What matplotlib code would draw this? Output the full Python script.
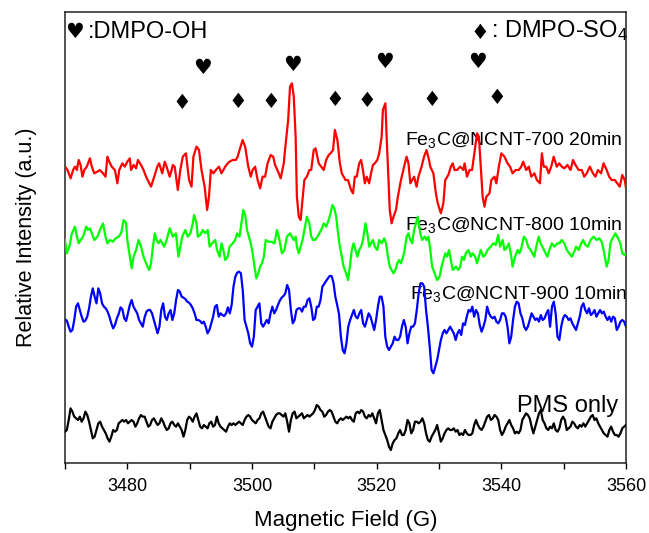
import numpy as np
import matplotlib
matplotlib.use("Agg")
import matplotlib.pyplot as plt

plt.rcParams["font.family"] = ["Liberation Sans", "DejaVu Sans"]
plt.rcParams["mathtext.fontset"] = "custom"
plt.rcParams["mathtext.rm"] = "Liberation Sans"
plt.rcParams["mathtext.it"] = "Liberation Sans"

# ---------------- EPR spectra (field in G, signal in arbitrary units) ----------------
red_field = [3470.0, 3470.4, 3470.9, 3471.3, 3471.6, 3471.9, 3472.2, 3472.5, 3472.8, 3473.1,
             3473.5, 3474.0, 3474.3, 3474.7, 3475.2, 3475.6, 3476.1, 3476.5, 3476.8, 3477.1,
             3477.5, 3478.0, 3478.4, 3478.7, 3479.2, 3479.6, 3480.0, 3480.4, 3480.6, 3481.0,
             3481.4, 3481.7, 3482.2, 3482.6, 3483.0, 3483.8, 3484.4, 3484.8, 3485.1, 3485.6,
             3486.0, 3486.3, 3486.8, 3487.1, 3487.3, 3487.6, 3488.1, 3488.5, 3488.9, 3489.4,
             3489.9, 3490.3, 3490.6, 3491.1, 3491.5, 3491.9, 3492.4, 3492.8, 3493.1, 3493.4,
             3493.8, 3494.2, 3494.7, 3495.1, 3495.4, 3495.7, 3496.1, 3496.4, 3496.9, 3497.4,
             3497.7, 3498.0, 3498.5, 3498.9, 3499.4, 3499.8, 3500.1, 3500.5, 3500.9, 3501.3,
             3501.7, 3502.1, 3502.5, 3503.0, 3503.4, 3503.7, 3504.3, 3504.6, 3505.1, 3505.3,
             3505.8, 3506.1, 3506.4, 3506.7, 3507.0, 3507.2, 3507.5, 3507.8, 3508.1, 3508.4,
             3508.8, 3509.2, 3509.5, 3509.9, 3510.2, 3510.7, 3511.1, 3511.5, 3511.9, 3512.3,
             3512.6, 3513.0, 3513.3, 3513.7, 3514.1, 3514.4, 3515.0, 3515.4, 3515.9, 3516.2,
             3516.5, 3516.8, 3517.2, 3517.5, 3517.8, 3518.1, 3518.4, 3518.8, 3519.1, 3519.4,
             3519.7, 3520.1, 3520.4, 3520.8, 3521.0, 3521.4, 3521.6, 3521.9, 3522.1, 3522.4,
             3522.7, 3523.1, 3523.4, 3523.9, 3524.4, 3524.8, 3525.1, 3525.4, 3525.7, 3526.0,
             3526.4, 3526.7, 3527.2, 3527.6, 3528.0, 3528.4, 3528.6, 3529.1, 3529.5, 3529.8,
             3530.3, 3530.7, 3531.0, 3531.5, 3531.9, 3532.2, 3532.5, 3532.9, 3533.4, 3533.9,
             3534.1, 3534.5, 3534.9, 3535.3, 3535.6, 3536.1, 3536.4, 3536.7, 3537.0, 3537.3,
             3537.6, 3538.1, 3538.4, 3538.9, 3539.2, 3539.6, 3540.0, 3540.5, 3541.0, 3541.4,
             3541.8, 3542.3, 3542.8, 3543.2, 3543.5, 3544.0, 3544.4, 3544.8, 3545.3, 3545.7,
             3546.2, 3546.5, 3546.8, 3547.2, 3547.6, 3548.0, 3548.4, 3548.9, 3549.3, 3549.7,
             3550.1, 3550.6, 3551.1, 3551.5, 3551.9, 3552.4, 3552.9, 3553.3, 3553.7, 3554.2,
             3554.7, 3555.1, 3555.5, 3556.0, 3556.4, 3556.9, 3557.3, 3557.7, 3558.2, 3558.6,
             3559.0, 3559.4, 3559.8, 3560.0]
red_signal = [10, 0, -25, 0, 10, 0, 30, 15, -20, 0,
              10, 35, 10, -10, -5, 0, -10, -20, 40, 25,
              10, 0, -40, 0, 20, 10, 25, 35, 0, 15,
              5, 30, 15, 0, -20, -50, -15, 10, 20, -10,
              25, 10, -20, 0, 15, 10, -60, 0, 40, 50,
              -30, -50, 40, 70, 60, 0, -50, -120, -80, 0,
              -10, 0, 10, -10, 0, 10, 20, 25, 30, 30,
              40, 60, 90, 70, 10, -20, 0, 10, -30, -55,
              -20, -20, 20, 45, 40, 15, -10, -25, 20, 60,
              150, 250, 260, 220, 100, -80, -140, -150, -90, -30,
              -20, 0, 0, 60, 65, 20, 10, 0, 30, 45,
              50, 60, 120, 90, 20, -10, -30, -30, -60, -70,
              -20, -20, 20, 30, 0, -40, -20, -40, -10, 15,
              20, 30, 50, 100, 180, 200, 100, -30, -120, -160,
              -140, -120, -80, -30, 10, 40, 20, -40, -30, -20,
              -50, -20, 10, 40, 60, 30, 10, -10, -70, -100,
              -130, -100, -30, -15, 10, 20, 0, 0, 10, 0,
              20, -20, 0, 0, 40, 110, 100, 10, -80, -110,
              -80, -70, -30, -20, -40, 10, 50, 40, 20, 10,
              -10, 0, 0, 10, 25, 0, 10, -20, -10, -30,
              -40, 50, 10, 10, -10, 10, 40, 10, 20, 10,
              5, 15, 0, 30, 15, 0, 0, -20, -10, 10,
              -10, -20, 0, -10, 20, 0, -20, -30, -30, -40,
              -50, -15, -30, -55]

green_field = [3470.0, 3470.3, 3470.7, 3471.1, 3471.6, 3471.9, 3472.2, 3472.5, 3472.9, 3473.4,
               3473.7, 3474.0, 3474.3, 3474.7, 3475.2, 3475.6, 3476.1, 3476.5, 3476.8, 3477.2,
               3477.7, 3478.1, 3478.6, 3479.0, 3479.4, 3479.8, 3480.0, 3480.4, 3480.7, 3481.0,
               3481.4, 3481.8, 3482.2, 3482.6, 3483.0, 3483.5, 3483.8, 3484.1, 3484.4, 3484.7,
               3485.0, 3485.3, 3485.6, 3485.9, 3486.3, 3486.8, 3487.1, 3487.3, 3487.8, 3488.2,
               3488.5, 3488.8, 3489.3, 3489.7, 3490.1, 3490.5, 3490.7, 3491.1, 3491.3, 3491.7,
               3492.1, 3492.5, 3492.9, 3493.2, 3493.6, 3494.1, 3494.4, 3494.8, 3495.1, 3495.4,
               3495.7, 3496.1, 3496.4, 3496.9, 3497.3, 3497.6, 3498.0, 3498.3, 3498.6, 3498.9,
               3499.2, 3499.5, 3499.8, 3500.1, 3500.4, 3500.7, 3501.0, 3501.3, 3501.6, 3501.9,
               3502.2, 3502.6, 3503.1, 3503.6, 3504.0, 3504.3, 3504.8, 3505.2, 3505.6, 3506.1,
               3506.4, 3506.7, 3507.0, 3507.2, 3507.5, 3507.8, 3508.1, 3508.4, 3508.8, 3509.2,
               3509.5, 3509.8, 3510.1, 3510.5, 3510.8, 3511.1, 3511.5, 3511.9, 3512.3, 3512.6,
               3512.9, 3513.2, 3513.5, 3513.8, 3514.1, 3514.4, 3514.7, 3515.1, 3515.4, 3515.7,
               3516.0, 3516.3, 3516.6, 3516.9, 3517.2, 3517.5, 3517.8, 3518.2, 3518.5, 3518.8,
               3519.1, 3519.4, 3519.7, 3520.1, 3520.4, 3520.8, 3521.2, 3521.5, 3521.8, 3522.1,
               3522.4, 3522.7, 3523.0, 3523.3, 3523.6, 3523.9, 3524.4, 3524.8, 3525.1, 3525.4,
               3525.7, 3526.0, 3526.3, 3526.6, 3527.0, 3527.3, 3527.7, 3528.0, 3528.3, 3528.6,
               3528.9, 3529.3, 3529.7, 3530.1, 3530.4, 3530.7, 3531.0, 3531.3, 3531.6, 3531.9,
               3532.2, 3532.7, 3533.1, 3533.4, 3533.7, 3534.0, 3534.3, 3534.7, 3535.1, 3535.4,
               3535.8, 3536.1, 3536.4, 3536.7, 3537.1, 3537.4, 3537.8, 3538.3, 3538.7, 3539.1,
               3539.5, 3539.8, 3540.2, 3540.5, 3540.8, 3541.2, 3541.6, 3541.8, 3542.2, 3542.6,
               3542.9, 3543.2, 3543.6, 3544.0, 3544.3, 3544.7, 3545.0, 3545.3, 3545.6, 3546.0,
               3546.3, 3546.7, 3547.1, 3547.4, 3547.7, 3548.1, 3548.5, 3549.0, 3549.3, 3549.7,
               3550.1, 3550.5, 3550.9, 3551.3, 3551.7, 3552.0, 3552.4, 3552.7, 3553.1, 3553.5,
               3553.9, 3554.3, 3554.8, 3555.3, 3555.7, 3556.1, 3556.4, 3556.9, 3557.2, 3557.5,
               3557.7, 3558.0, 3558.3, 3558.6, 3559.1, 3559.4, 3559.8, 3560.0]
green_signal = [0, -40, -20, 20, 40, 10, -10, 0, 10, 40,
                30, 35, 20, 0, 10, 30, 50, 10, -10, 0,
                -5, 5, 10, 20, 60, 50, 0, -50, -85, -50,
                -30, 0, -20, -50, -70, -90, -70, -20, 20, 0,
                -10, 0, -10, -20, 0, 35, 20, 10, 20, -50,
                -20, 10, 30, 10, 20, 50, 75, 50, 10, 15,
                30, 20, 30, -20, -10, 0, -30, -50, -10, -30,
                -60, -50, -20, -10, 0, 20, 10, 50, 90, 75,
                30, 10, -10, -40, -80, -115, -100, -80, -70, -50,
                0, -5, -5, -10, 30, 10, -40, -30, 10, 20,
                10, 0, 10, -20, -40, -20, 0, 30, 70, 50,
                10, 0, 0, 10, 20, 30, 50, 40, 60, 80,
                105, 95, 70, 20, -20, -50, -80, -100, -120, -80,
                -30, -10, -30, -50, -30, -20, 0, 50, 20, -20,
                -10, 0, -20, -30, 0, -10, 5, -10, -50, -80,
                -90, -100, -90, -70, -60, -70, -40, 10, 20, 0,
                -10, 30, 50, 70, 20, 0, 10, 0, 10, -30,
                -80, -100, -120, -110, -80, -60, -40, -50, -30, -60,
                -90, -80, -90, -80, -50, -60, -40, -30, -50, -40,
                -50, -70, -50, -30, -50, -45, -30, -20, -10, -15,
                15, -20, 0, -30, -25, -10, -50, -80, -50, -30,
                -40, -25, 10, 0, -20, -30, -40, -50, -20, 10,
                -10, -25, -40, -50, -30, -10, -20, -10, -10, 0,
                -10, -30, -40, -50, -35, -20, -30, -15, 0, -15,
                -20, 0, 10, 0, 5, -5, -30, -80, -60, -10,
                0, 10, 20, 10, -10, -40, -45, -40]

# The two lower spectra were recorded on an even field sweep
blue_signal = [2, -2, -20, -35, -30, 0, 40, 50, 30, 10,
               -5, -2, 10, 35, 70, 95, 70, 50, 95, 80,
               50, 40, 35, 25, 10, -10, -25, -15, 5, 18,
               38, 32, 5, -3, 20, 45, 60, 40, 30, 20,
               0, -10, -20, 8, 25, 30, 30, 20, 0, -20,
               -40, -20, 30, 50, 10, 0, 20, 30, 0, 20,
               60, 90, 85, 70, 67, 63, 55, 52, 45, 35,
               20, 0, 0, -3, -10, -5, -20, -40, -30, -10,
               10, 40, 45, 10, 20, 15, 12, 20, 38, 20,
               45, 100, 130, 142, 145, 140, 90, 0, -20, -40,
               -70, -80, -50, 30, 40, 50, -10, -20, -10, 0,
               -10, 20, 40, 20, 30, 45, 58, 67, 72, 80,
               105, 90, 30, -10, 0, 30, 35, 35, 25, 40,
               40, 60, 65, 40, 0, 5, 40, 40, 60, 100,
               108, 117, 125, 132, 132, 112, 70, 45, 18, -50,
               -90, -100, -70, -20, 0, 15, 30, 10, 5, 20,
               30, -10, -20, 0, 20, 10, -10, -30, 0, 40,
               70, 70, 40, -50, -80, -90, -80, -70, -50, -60,
               -60, -50, -20, 0, -20, -70, -40, -20, -20, -10,
               30, 80, 110, 110, 100, 30, -20, -80, -150, -160,
               -140, -120, -90, -60, -40, -30, -40, -30, -20, -30,
               -40, -60, -40, -30, -45, -10, -15, 10, 30, 25,
               40, 10, 30, 20, -15, -35, -20, 0, 40, 20,
               10, 5, 10, -5, -10, 0, 20, 20, 10, -20,
               -70, -50, 0, 40, 55, 50, 20, 5, -20, -30,
               -20, 0, 20, 10, 0, 5, -5, 15, 0, 5,
               20, 30, -20, 40, 55, 20, -50, -60, -20, 5,
               15, 10, 0, 5, -10, -20, -30, -10, 10, 40,
               50, 30, 20, 35, 15, 20, 30, 10, 20, 30,
               20, 25, 10, 0, 10, -5, 10, 5, -30, -20,
               -5, 0, -5, -20]

black_signal = [-15, -10, 20, 55, 45, 30, 25, 20, 30, 15,
                25, 45, 35, 15, -10, -35, -30, -10, 10, 15,
                0, -10, -20, -35, -45, -30, -10, -15, -10, 10,
                15, 20, 15, 20, 10, 15, 20, 15, 0, 10,
                25, 35, 30, 30, 15, 0, 5, 20, 25, 15,
                5, 10, 25, 15, 0, -10, -5, 10, 15, 5,
                0, 10, 0, -10, -30, -10, 20, 30, 25, 15,
                30, 40, 20, 0, -5, 5, 0, -5, 10, 15,
                0, 5, 30, 10, 0, -5, -10, -15, 0, 10,
                5, 10, 5, 10, 15, 10, 5, 20, 30, 35,
                30, 20, 15, 10, 20, 25, 40, 45, 30, 15,
                0, -5, 15, 25, 35, 40, 40, 35, 30, 40,
                15, -15, 20, 40, 45, 25, 30, 35, 40, 25,
                30, 35, 30, 35, 40, 50, 65, 60, 50, 45,
                30, 35, 45, 50, 45, 30, 15, 10, 20, 25,
                20, 25, 30, 25, 30, 20, 15, 40, 45, 40,
                50, 45, 30, 25, 35, 30, 40, 25, 10, 40,
                50, 20, -10, -25, -40, -60, -70, -50, -40, -35,
                -20, -10, -25, -25, -10, 20, 10, -20, -10, 15,
                15, 10, 15, 25, 10, -20, -40, -45, -30, -20,
                -10, 5, -20, -45, -35, -20, -10, -5, -10, -10,
                -5, -15, -10, -25, -20, -25, -10, -20, -25, -25,
                -20, 5, 20, 5, -5, -10, 0, 15, 30, 35,
                20, 25, 35, 30, 20, -10, -25, -15, 0, 10,
                20, 5, -5, -20, -15, -20, -10, 20, 30, 40,
                35, 25, 0, -20, 0, 20, 40, 50, 20, 10,
                -5, -10, 0, -5, 10, -10, -15, -5, 20, 30,
                20, -10, -5, 0, 15, 10, 0, -5, 5, 0,
                10, 0, 10, 20, 30, 35, 20, 25, 10, 0,
                -10, -20, -25, -30, -10, 0, -15, -25, -25, -30,
                -20, -5, 0, 5]

blue_field = np.linspace(3470, 3560, len(blue_signal))
black_field = np.linspace(3470, 3560, len(black_signal))

# vertical stacking of the spectra
offsets = {"red": 879, "green": 669, "blue": 429, "black": 109}

labels = ["Fe$_3$C@NCNT-700 20min", "Fe$_3$C@NCNT-800 10min",
          "Fe$_3$C@NCNT-900 10min", "PMS only"]

# peak assignments
oh_peaks = [3492.1, 3506.5, 3521.2, 3536.1]
so4_peaks = [3488.8, 3497.7, 3503.0, 3513.3, 3518.4, 3528.8, 3539.3]

xticks = [3480, 3500, 3520, 3540, 3560]
xticks_minor = [3470, 3490, 3510, 3530, 3550]

# ---------------- figure ----------------
fig = plt.figure(figsize=(6.49, 5.33), dpi=100)
ax = fig.add_axes([65 / 649, 70 / 533, 561 / 649, 451 / 533])

lw = 1.6
ax.plot(red_field, np.array(red_signal) + offsets["red"], color="#ff0000", lw=lw, zorder=3)
ax.plot(green_field, np.array(green_signal) + offsets["green"], color="#00ff00", lw=lw, zorder=3)
ax.plot(blue_field, np.array(blue_signal) + offsets["blue"], color="#0000ff", lw=lw, zorder=3)
ax.plot(black_field, np.array(black_signal) + offsets["black"], color="black", lw=lw, zorder=3)

ax.set_xlim(3470, 3560)
ax.set_ylim(0, 1353)

ax.set_xticks(xticks)
ax.set_xticks(xticks_minor, minor=True)
ax.set_yticks([])
ax.tick_params(axis="x", which="both", direction="out", length=4, width=1.0,
               labelsize=13, pad=7, top=False)
for s in ax.spines.values():
    s.set_linewidth(1.1)
    s.set_color("#222222")

ax.set_xlabel("Magnetic Field (G)", fontsize=16)
ax.xaxis.set_label_coords(0.5, -0.105)
ax.set_ylabel("Relative Intensity (a.u.)", fontsize=15.5)
ax.yaxis.set_label_coords(-0.05, 0.5)

# trace labels
ax.text(3559.4, 954, labels[0], fontsize=14, ha="right", va="baseline", zorder=1)
ax.text(3559.5, 699, labels[1], fontsize=14, ha="right", va="baseline", zorder=1)
ax.text(3560.3, 492, labels[2], fontsize=14, ha="right", va="baseline", zorder=1)
ax.text(3558.7, 153, labels[3], fontsize=17, ha="right", va="baseline", zorder=1)

# peak markers
sym_family = ["DejaVu Sans"]
heart_y = [1185, 1194, 1203, 1203]
diamond_y = [1080, 1083, 1083, 1089, 1086, 1089, 1095]
for xp, yp in zip(oh_peaks, heart_y):
    ax.text(xp, yp, "\u2665", fontsize=15, ha="center", va="center", family=sym_family)
for xp, yp in zip(so4_peaks, diamond_y):
    ax.text(xp, yp, "\u2666", fontsize=15, ha="center", va="center", family=sym_family)

# key
ax.text(3471.6, 1293, "\u2665", fontsize=15, ha="center", va="center", family=sym_family)
ax.text(3473.6, 1275, ":DMPO-OH", fontsize=17, ha="left", va="baseline")
ax.text(3536.6, 1290, "\u2666", fontsize=15, ha="center", va="center", family=sym_family)
ax.text(3538.3, 1278, ": DMPO-SO$_4$", fontsize=17, ha="left", va="baseline")

fig.savefig("out.png", dpi=100)
